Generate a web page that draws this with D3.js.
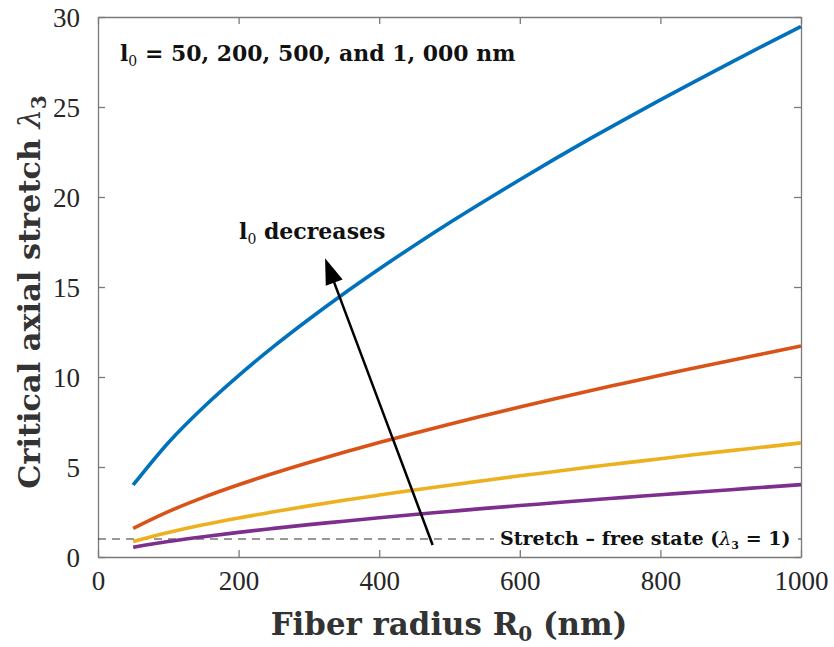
<!DOCTYPE html>
<html><head><meta charset="utf-8">
<script src="https://cdn.jsdelivr.net/npm/d3@7"></script>
<style>
html,body{margin:0;padding:0;background:#fff;}
svg text{font-family:"Liberation Serif","DejaVu Serif",serif;}
svg text.b{font-family:"DejaVu Serif","Liberation Serif",serif;}
</style></head>
<body><svg id="c" width="834" height="647"></svg>
<script>
// Fiber radius R0 (nm)
const radii = [50,100,150,200,250,300,350,400,450,500,550,600,650,700,750,800,850,900,950,1000];
// Critical axial stretch for each l0
const l0_50   = [4.00,6.35,8.32,10.08,11.70,13.21,14.64,16.00,17.31,18.57,19.78,20.96,22.12,23.24,24.33,25.40,26.44,27.47,28.48,29.47];
const l0_200  = [1.59,2.52,3.31,4.01,4.65,5.25,5.82,6.36,6.88,7.38,7.86,8.33,8.79,9.24,9.67,10.10,10.51,10.92,11.32,11.72];
const l0_500  = [0.86,1.36,1.79,2.17,2.51,2.84,3.15,3.44,3.72,3.99,4.25,4.51,4.75,5.00,5.23,5.46,5.69,5.91,6.12,6.34];
const l0_1000 = [0.545,0.86,1.13,1.37,1.59,1.80,1.99,2.18,2.36,2.53,2.70,2.86,3.01,3.17,3.31,3.46,3.60,3.74,3.88,4.02];
const seriesColors = ["#0072BD","#D95319","#EDB120","#7E2F8E"];
const xTicks = [0,200,400,600,800,1000];
const yTicks = [0,5,10,15,20,25,30];
const stretchFree = 1;
const arrowFrom = [476, 0.67];
const arrowTo = [323, 16.6];

const svg = d3.select("#c");
const L=98, R=801, T=17, B=557;
const x = d3.scaleLinear().domain([0,1000]).range([L,R]);
const y = d3.scaleLinear().domain([0,30]).range([B,T]);
const axisColor = "#7a7a7a", textColor = "#262626";

function fitWidth(sel, w){
  const n = sel.node(); const cur = n.getComputedTextLength();
  const fs = parseFloat(sel.attr("font-size"));
  sel.attr("font-size", fs*w/cur);
}

// axes
const gx = svg.append("g").attr("transform",`translate(0,${B})`)
  .call(d3.axisBottom(x).tickValues(xTicks).tickSizeInner(-7).tickSizeOuter(0).tickPadding(14).tickFormat(d3.format("d")));
const gxt = svg.append("g").attr("transform",`translate(0,${T})`)
  .call(d3.axisTop(x).tickValues(xTicks).tickSizeInner(-7).tickSizeOuter(0).tickFormat(""));
const gy = svg.append("g").attr("transform",`translate(${L},0)`)
  .call(d3.axisLeft(y).tickValues(yTicks).tickSizeInner(-7).tickSizeOuter(0).tickPadding(18).tickFormat(d3.format("d")));
const gyr = svg.append("g").attr("transform",`translate(${R},0)`)
  .call(d3.axisRight(y).tickValues(yTicks).tickSizeInner(-7).tickSizeOuter(0).tickFormat(""));
[gx,gxt,gy,gyr].forEach(g=>{
  g.select(".domain").attr("stroke",axisColor).attr("stroke-width",1.3);
  g.selectAll(".tick line").attr("stroke",axisColor).attr("stroke-width",1.3);
  g.selectAll(".tick text").attr("fill",textColor).attr("font-size",27).attr("font-family","Liberation Serif, serif");
});
gx.selectAll(".tick text").attr("dy","0.71em");
gy.selectAll(".tick text").attr("dy","0.35em");

// dashed stretch-free line
svg.append("line").attr("x1",x(0)).attr("x2",x(1000)).attr("y1",y(stretchFree)).attr("y2",y(stretchFree))
  .attr("stroke","#333").attr("stroke-width",1.2).attr("stroke-dasharray","8,6");

// curves
const line = d3.line().x(d=>x(d[0])).y(d=>y(d[1])).curve(d3.curveMonotoneX);
[l0_50,l0_200,l0_500,l0_1000].forEach((s,i)=>{
  svg.append("path").datum(radii.map((r,j)=>[r,s[j]])).attr("d",line)
    .attr("fill","none").attr("stroke",seriesColors[i]).attr("stroke-width",3.6);
});

// stretch-free label with white background
const sfx = 500, sfy = 545;
const sfBg = svg.append("rect").attr("fill","#fff");
const sf = svg.append("text").attr("class","b").attr("x",sfx).attr("y",sfy).attr("font-size",16).attr("font-weight","bold").attr("fill","#111");
sf.append("tspan").text("Stretch – free state (");
sf.append("tspan").attr("font-style","italic").attr("font-weight","normal").text("λ");
sf.append("tspan").attr("font-size",11).attr("dy",4).text("3");
sf.append("tspan").attr("dy",-4).text(" = 1)");
fitWidth(sf, 292);
sfBg.attr("x",sfx-6).attr("y",y(stretchFree)-10).attr("width",300).attr("height",20);

// arrow
const ax1=x(arrowFrom[0]), ay1=y(arrowFrom[1]), ax2=x(arrowTo[0]), ay2=y(arrowTo[1]);
const ang = Math.atan2(ay2-ay1, ax2-ax1);
const hl = 26, hw = 9;
svg.append("line").attr("x1",ax1).attr("y1",ay1)
  .attr("x2",ax2-Math.cos(ang)*hl*0.8).attr("y2",ay2-Math.sin(ang)*hl*0.8)
  .attr("stroke","#000").attr("stroke-width",2.5);
const bx = ax2-Math.cos(ang)*hl, by = ay2-Math.sin(ang)*hl;
svg.append("path").attr("d",`M${ax2},${ay2} L${bx+Math.sin(ang)*hw},${by-Math.cos(ang)*hw} L${bx-Math.sin(ang)*hw},${by+Math.cos(ang)*hw} Z`).attr("fill","#000");

// l0 decreases
const ld = svg.append("text").attr("class","b").attr("x",239).attr("y",239).attr("font-size",19).attr("font-weight","bold").attr("fill","#111");
ld.append("tspan").text("l");
ld.append("tspan").attr("font-size",14).attr("dy",5).attr("font-weight","normal").text("0");
ld.append("tspan").attr("dy",-5).text(" decreases");
fitWidth(ld, 148);

// l0 = values
const lv = svg.append("text").attr("class","b").attr("x",120).attr("y",61).attr("font-size",19).attr("font-weight","bold").attr("fill","#111");
lv.append("tspan").text("l");
lv.append("tspan").attr("font-size",14).attr("dy",5).attr("font-weight","normal").text("0");
lv.append("tspan").attr("dy",-5).text(" = 50, 200, 500, and 1, 000 nm");
fitWidth(lv, 397);

// axis titles
const xt = svg.append("text").attr("class","b").attr("x",449).attr("y",635).attr("text-anchor","middle").attr("font-size",28).attr("font-weight","bold").attr("fill","#333");
xt.append("tspan").text("Fiber radius R");
xt.append("tspan").attr("font-size",20).attr("dy",6).text("0");
xt.append("tspan").attr("dy",-6).text(" (nm)");
fitWidth(xt, 358);

const yt = svg.append("text").attr("class","b").attr("transform",`translate(40,292) rotate(-90)`).attr("text-anchor","middle").attr("font-size",28).attr("font-weight","bold").attr("fill","#333");
yt.append("tspan").text("Critical axial stretch ");
yt.append("tspan").attr("font-style","italic").attr("font-weight","normal").text("λ");
yt.append("tspan").attr("font-size",20).attr("dy",6).text("3");
fitWidth(yt, 395);
</script></body></html>
